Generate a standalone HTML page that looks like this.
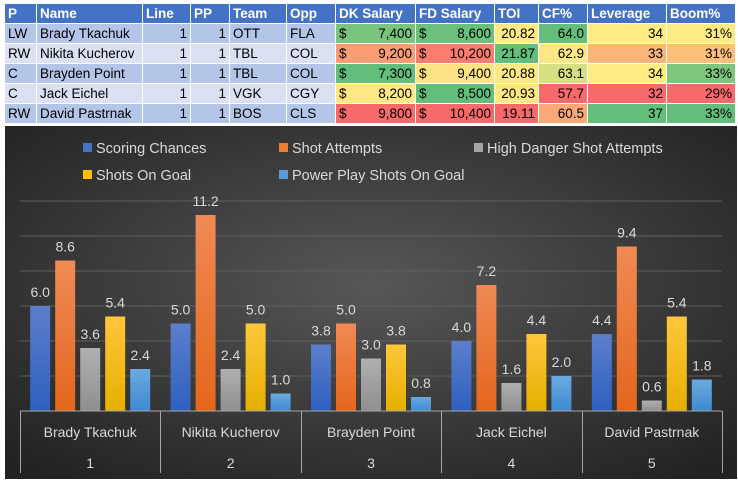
<!DOCTYPE html>
<html><head><meta charset="utf-8"><style>
body{margin:0;width:738px;height:490px;background:#fff;overflow:hidden;font-family:"Liberation Sans",sans-serif;position:relative}
.c{position:absolute;box-sizing:border-box;font-size:13.5px;line-height:20px;height:20px;padding:0 3px;white-space:nowrap;border-right:1px solid #fff;border-bottom:1px solid #fff;color:#000}
.h{background:#4472C4;color:#fff;font-weight:bold}
.r{text-align:right}
.d{position:absolute;left:3px}
svg{position:absolute;left:0;top:0}
</style></head><body>
<div id="tbl"></div>
<svg id="chart" width="738" height="490">
<defs>
<radialGradient id="bg" cx="50%" cy="45%" r="70%"><stop offset="0" stop-color="#575757"/><stop offset="1" stop-color="#222"/></radialGradient>
<linearGradient id="g0" x1="0" y1="0" x2="0" y2="1"><stop offset="0" stop-color="#5b7fcc"/><stop offset="1" stop-color="#2f5fbf"/></linearGradient>
<linearGradient id="g1" x1="0" y1="0" x2="0" y2="1"><stop offset="0" stop-color="#f08a55"/><stop offset="1" stop-color="#e4661c"/></linearGradient>
<linearGradient id="g2" x1="0" y1="0" x2="0" y2="1"><stop offset="0" stop-color="#b0b0b0"/><stop offset="1" stop-color="#8f8f8f"/></linearGradient>
<linearGradient id="g3" x1="0" y1="0" x2="0" y2="1"><stop offset="0" stop-color="#ffc63c"/><stop offset="1" stop-color="#e6b000"/></linearGradient>
<linearGradient id="g4" x1="0" y1="0" x2="0" y2="1"><stop offset="0" stop-color="#6aaae0"/><stop offset="1" stop-color="#3f8ad0"/></linearGradient>
</defs>
<rect x="5" y="126" width="732" height="353" fill="url(#bg)"/>
<g id="plot"></g>
</svg>
<script>
const cols=[5,37,143,191,230,287,336,416,495,539,588,667,736];
const headers=["P","Name","Line","PP","Team","Opp","DK Salary","FD Salary","TOI","CF%","Leverage","Boom%"];
const rows=[
["LW","Brady Tkachuk","1","1","OTT","FLA","7,400","8,600","20.82","64.0","34","31%"],
["RW","Nikita Kucherov","1","1","TBL","COL","9,200","10,200","21.87","62.9","33","31%"],
["C","Brayden Point","1","1","TBL","COL","7,300","9,400","20.88","63.1","34","33%"],
["C","Jack Eichel","1","1","VGK","CGY","8,200","8,500","20.93","57.7","32","29%"],
["RW","David Pastrnak","1","1","BOS","CLS","9,800","10,400","19.11","60.5","37","33%"]];
const colors=[
["#7BC47D","#6BC17C","#FFEB84","#63BE7B","#FFEB84","#FFEB84"],
["#FA9D75","#F97E6F","#63BE7B","#FFE884","#FCB579","#FDC07B"],
["#63BE7B","#FFE283","#FEEA83","#D6E081","#FFEB84","#7FC67D"],
["#FFE884","#63BE7B","#FFE884","#F8696B","#F8696B","#F8696B"],
["#F8696B","#F8696B","#F8696B","#FBA877","#63BE7B","#63BE7B"]];
const tbl=document.getElementById('tbl');
function cell(x,y,w,txt,cls,bg){const d=document.createElement('div');d.className='c '+cls;d.style.left=x+'px';d.style.top=y+'px';d.style.width=w+'px';if(bg)d.style.background=bg;d.innerHTML=txt;tbl.appendChild(d);return d;}
headers.forEach((h,i)=>{const d=cell(cols[i],4,cols[i+1]-cols[i],h,'h');

});
rows.forEach((r,ri)=>{const y=24+ri*20;const base=ri%2==0?'#B4C6E7':'#D9E1F2';
r.forEach((v,i)=>{let bg=i>=6?colors[ri][i-6]:base;let cls=(i==2||i==3||i>=6)?'r':'';let txt=v;
if(i==6||i==7)txt='<span class="d">$</span>'+v;
const d=cell(cols[i],y,cols[i+1]-cols[i],txt,cls,bg);

});});

const categories=["Brady Tkachuk","Nikita Kucherov","Brayden Point","Jack Eichel","David Pastrnak"];
const catNums=["1","2","3","4","5"];
const seriesNames=["Scoring Chances","Shot Attempts","High Danger Shot Attempts","Shots On Goal","Power Play Shots On Goal"];
const scoring=[6.0,5.0,3.8,4.0,4.4];
const attempts=[8.6,11.2,5.0,7.2,9.4];
const hdAttempts=[3.6,2.4,3.0,1.6,0.6];
const sog=[5.4,5.0,3.8,4.4,5.4];
const ppSog=[2.4,1.0,0.8,2.0,1.8];
const gridTicks=[2,4,6,8,10,12];
const series=[scoring,attempts,hdAttempts,sog,ppSog];
const legendColors=["#4472C4","#ED7D31","#A5A5A5","#FFC000","#5B9BD5"];

const NS='http://www.w3.org/2000/svg';
const g=document.getElementById('plot');
const x0=20,x1=722,y0=411,pxPer=17.5;
const catW=(x1-x0)/categories.length;
const yS=v=>y0-v*pxPer;
function el(t,a){const e=document.createElementNS(NS,t);for(const k in a)e.setAttribute(k,a[k]);g.appendChild(e);return e;}
gridTicks.forEach(t=>{const l=el('line',{x1:x0,x2:x1,y1:yS(t),y2:yS(t),stroke:'#5e5e5e','stroke-width':1});

});
series.forEach((s,si)=>{s.forEach((v,ci)=>{
const bx=x0+ci*catW+catW/2-60+si*25;
const r=el('rect',{x:bx,y:yS(v),width:20,height:v*pxPer,fill:'url(#g'+si+')'});


const t=el('text',{x:bx+10,y:yS(v)-9,'text-anchor':'middle','font-size':'14',fill:'#d9d9d9'});
t.textContent=v.toFixed(1);

});});
const ax=el('line',{x1:x0,x2:x1,y1:y0,y2:y0,stroke:'#a6a6a6','stroke-width':1});


for(let i=0;i<=categories.length;i++){const x=Math.round(x0+i*catW)+0.5;
const l=el('line',{x1:x,x2:x,y1:y0,y2:473,stroke:'#a6a6a6','stroke-width':1});

}
categories.forEach((c,i)=>{const cx=x0+i*catW+catW/2;
const t=el('text',{x:cx,y:437,'text-anchor':'middle','font-size':'14',fill:'#d9d9d9'});t.textContent=c;


const n=el('text',{x:cx,y:468,'text-anchor':'middle','font-size':'14',fill:'#d9d9d9'});n.textContent=catNums[i];

});
const legPos=[[83,148],[279,148],[474,148],[83,175],[279,175]];
seriesNames.forEach((n,i)=>{const [lx,ly]=legPos[i];
const r=el('rect',{x:lx,y:ly-5,width:9,height:9,fill:legendColors[i]});


const t=el('text',{x:lx+13,y:ly+5,'font-size':'14.5',fill:'#d9d9d9'});t.textContent=n;

});
</script>
</body></html>
